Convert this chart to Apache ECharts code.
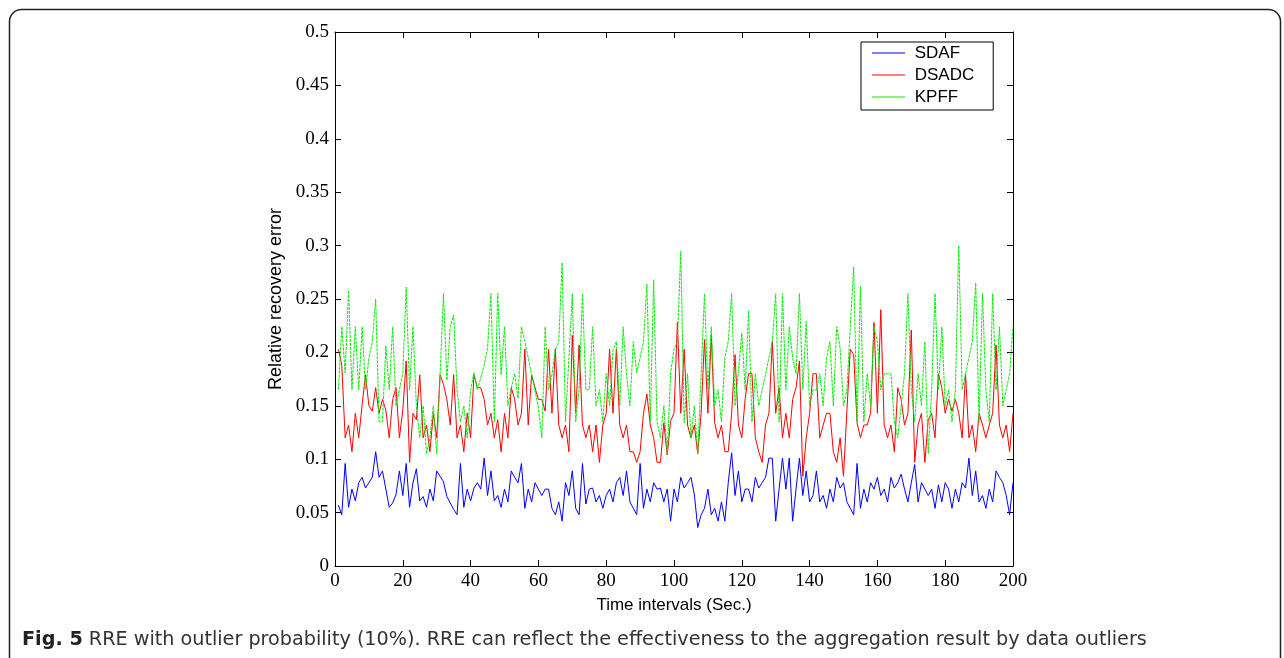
<!DOCTYPE html>
<html>
<head>
<meta charset="utf-8">
<script src="https://cdn.jsdelivr.net/npm/echarts@6/dist/echarts.min.js"></script>
<style>
html,body{margin:0;padding:0;background:#fff;}
#chart{width:1284px;height:658px;}
</style>
</head>
<body>
<div id="chart"></div>
<script>
// Data (x = 1..200)
const sdaf = [
.057,.048,.096,.055,.072,.061,.078,.083,.073,.078,
.083,.107,.083,.089,.072,.055,.059,.067,.089,.066,
.096,.055,.078,.091,.061,.065,.055,.072,.061,.089,
.084,.079,.065,.059,.053,.048,.096,.055,.072,.061,
.073,.078,.072,.101,.066,.089,.061,.066,.055,.072,
.060,.089,.083,.078,.096,.054,.072,.060,.078,.072,
.066,.072,.072,.054,.048,.060,.042,.078,.066,.089,
.054,.048,.096,.058,.072,.073,.060,.066,.054,.066,
.072,.060,.078,.083,.066,.089,.060,.054,.048,.096,
.054,.072,.060,.078,.072,.073,.060,.072,.042,.072,
.060,.083,.073,.078,.083,.067,.036,.048,.054,.072,
.048,.054,.042,.060,.042,.078,.106,.066,.089,.060,
.072,.072,.060,.083,.073,.078,.083,.101,.101,.042,
.072,.101,.072,.101,.042,.072,.101,.066,.089,.060,
.066,.089,.060,.066,.054,.072,.060,.083,.073,.078,
.060,.054,.048,.096,.054,.072,.060,.078,.072,.083,
.066,.072,.060,.083,.073,.078,.086,.072,.060,.078,
.095,.060,.078,.072,.066,.072,.054,.076,.060,.078,
.072,.054,.072,.060,.078,.073,.101,.066,.089,.060,
.066,.054,.072,.060,.089,.083,.078,.066,.048,.078
];
const dsadc = [
.203,.188,.120,.132,.107,.143,.120,.151,.179,.150,
.145,.167,.143,.156,.146,.120,.156,.167,.120,.146,
.192,.097,.143,.137,.179,.120,.132,.107,.143,.120,
.179,.170,.156,.132,.179,.120,.132,.107,.143,.120,
.179,.167,.167,.156,.132,.143,.120,.137,.107,.143,
.120,.167,.156,.132,.143,.203,.132,.179,.167,.156,
.156,.145,.203,.143,.203,.132,.120,.132,.107,.216,
.143,.207,.132,.120,.132,.107,.132,.097,.132,.143,
.203,.143,.203,.132,.120,.132,.107,.107,.097,.107,
.143,.161,.132,.120,.097,.097,.134,.104,.136,.143,
.228,.143,.203,.132,.120,.132,.105,.143,.212,.143,
.216,.134,.120,.132,.107,.107,.143,.198,.132,.120,
.157,.180,.180,.120,.107,.097,.132,.143,.210,.143,
.167,.120,.143,.120,.156,.167,.192,.084,.120,.143,
.180,.180,.120,.132,.143,.143,.107,.097,.120,.084,
.145,.203,.198,.134,.120,.132,.132,.143,.228,.143,
.240,.132,.120,.132,.107,.167,.156,.132,.143,.221,
.097,.132,.143,.097,.137,.143,.120,.180,.167,.143,
.156,.145,.156,.143,.120,.180,.120,.132,.107,.143,
.132,.120,.132,.143,.207,.132,.120,.132,.107,.143
];
const kpff = [
.165,.224,.181,.258,.165,.224,.165,.224,.165,.195,
.210,.250,.135,.135,.206,.165,.224,.150,.165,.181,
.261,.165,.224,.150,.120,.150,.105,.120,.150,.105,
.179,.255,.174,.224,.235,.165,.135,.150,.120,.165,
.181,.165,.176,.188,.204,.255,.135,.255,.179,.224,
.150,.167,.180,.157,.224,.210,.195,.179,.164,.148,
.120,.224,.165,.179,.203,.210,.284,.135,.195,.255,
.135,.165,.255,.165,.165,.224,.150,.165,.135,.180,
.150,.202,.210,.150,.224,.179,.150,.210,.181,.195,
.210,.264,.135,.268,.135,.120,.150,.105,.181,.203,
.210,.295,.134,.180,.120,.150,.105,.179,.255,.165,
.224,.150,.165,.135,.195,.210,.255,.150,.182,.218,
.165,.239,.135,.180,.150,.165,.179,.195,.210,.255,
.135,.255,.165,.224,.195,.180,.255,.165,.229,.150,
.165,.165,.180,.150,.195,.210,.150,.224,.204,.150,
.165,.224,.280,.135,.262,.135,.180,.150,.224,.210,
.165,.180,.180,.180,.135,.120,.150,.180,.255,.165,
.135,.180,.150,.210,.105,.165,.255,.165,.224,.150,
.165,.135,.165,.300,.165,.180,.195,.210,.265,.135,
.255,.165,.135,.255,.165,.224,.150,.165,.180,.224
];
const seriesNames = ['SDAF', 'DSADC', 'KPFF'];
const xLabel = 'Time intervals (Sec.)';
const yLabel = 'Relative recovery error';
const caption = 'RRE with outlier probability (10%). RRE can reflect the effectiveness to the aggregation result by data outliers';

function pairs(arr){ return arr.map((v,i)=>[i+1, v]); }

const chart = echarts.init(document.getElementById('chart'), null, {renderer:'canvas'});
function tickFont(){ return {fontFamily:'Liberation Serif', fontSize:19, color:'#000', margin:6}; }
function axisLine(){ return {show:true, onZero:false, lineStyle:{color:'#000', width:1}}; }
function tick(){ return {show:true, inside:true, length:6, lineStyle:{color:'#000', width:1}}; }

chart.setOption({
  animation:false,
  backgroundColor:'#fff',
  grid:{left:335, right:271, top:32, bottom:92, containLabel:false},
  legend:{
    data:seriesNames, orient:'vertical', left:861, top:42,
    backgroundColor:'#fff', borderColor:'#000', borderWidth:1,
    padding:[2,19,4,11], itemWidth:33, itemHeight:1, itemGap:4,
    icon:'rect',
    textStyle:{fontFamily:'Liberation Sans', fontSize:17, color:'#000', lineHeight:18},
    formatter: n => ' ' + n
  },
  xAxis:[
    {type:'value', min:0, max:200, interval:20, position:'bottom',
     axisLine:axisLine(), axisTick:tick(), splitLine:{show:false},
     axisLabel:tickFont(),
     name:xLabel, nameLocation:'middle', nameGap:31,
     nameTextStyle:{fontFamily:'Liberation Sans', fontSize:17, color:'#000'}},
    {type:'value', min:0, max:200, interval:20, position:'top',
     axisLine:axisLine(), axisTick:tick(), splitLine:{show:false}, axisLabel:{show:false}}
  ],
  yAxis:[
    {type:'value', min:0, max:0.5, interval:0.05, position:'left',
     axisLine:axisLine(), axisTick:tick(), splitLine:{show:false},
     axisLabel:tickFont(),
     name:yLabel, nameLocation:'middle', nameGap:28, nameRotate:90,
     nameTextStyle:{fontFamily:'Liberation Sans', fontSize:18, color:'#000'}},
    {type:'value', min:0, max:0.5, interval:0.05, position:'right',
     axisLine:axisLine(), axisTick:tick(), splitLine:{show:false}, axisLabel:{show:false}}
  ],
  series:[
    {name:seriesNames[0], type:'line', data:pairs(sdaf), symbol:'none', showSymbol:false,
     lineStyle:{color:'#0000ff', width:1}, itemStyle:{color:'#0000ff'}, z:2},
    {name:seriesNames[1], type:'line', data:pairs(dsadc), symbol:'none', showSymbol:false,
     lineStyle:{color:'#ff0000', width:1}, itemStyle:{color:'#ff0000'}, z:3},
    {name:seriesNames[2], type:'line', data:pairs(kpff), symbol:'none', showSymbol:false,
     lineStyle:{color:'#00ee00', width:1, type:[3,1]}, itemStyle:{color:'#00ee00'}, z:4}
  ],
  graphic:[
    {type:'rect', left:7, top:7, shape:{x:0, y:0, width:1271, height:720, r:12},
     style:{fill:'none', stroke:'#222', lineWidth:1.5}, silent:true, z:-1},
    {type:'text', left:22, top:631,
     style:{text:'{b|Fig. 5} ' + caption,
       rich:{b:{fontFamily:'DejaVu Sans', fontWeight:'bold', fontSize:19.2, fill:'#222'}},
       fontFamily:'DejaVu Sans', fontSize:19.2, fill:'#333'}}
  ]
});
</script>
</body>
</html>
